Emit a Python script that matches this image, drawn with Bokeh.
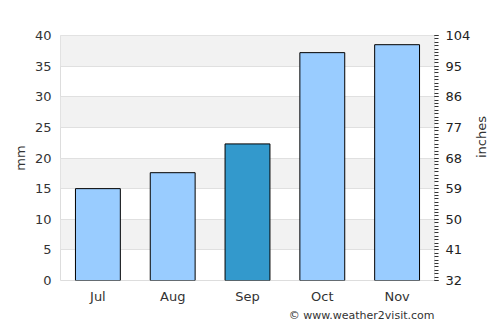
import math
from bokeh.plotting import figure
from bokeh.models import Range1d, LinearAxis, FixedTicker, Title
from bokeh.embed import file_html
from bokeh.resources import INLINE

months = ["Jul", "Aug", "Sep", "Oct", "Nov"]
rain_mm = [15.0, 17.6, 22.3, 37.2, 38.5]
colors = ["#99ccff", "#99ccff", "#3399cc", "#99ccff", "#99ccff"]
left_ticks = [0, 5, 10, 15, 20, 25, 30, 35, 40]
right_ticks = [32, 41, 50, 59, 68, 77, 86, 95, 104]

FONT = "DejaVu Sans"
TXT = "#333333"

p = figure(x_range=months, y_range=Range1d(0, 40), width=500, height=325,
           output_backend="svg", toolbar_location=None,
           min_border_left=60, min_border_right=66, min_border_top=35, min_border_bottom=45)
p.background_fill_color = "white"
p.outline_line_color = "#dddddd"

p.vbar(x=months, top=rain_mm, width=0.6, fill_color=colors, line_color="black", line_width=1)

p.xgrid.grid_line_color = None
p.ygrid.ticker = FixedTicker(ticks=left_ticks)
p.ygrid.grid_line_color = "#e0e0e0"
p.ygrid.band_fill_color = "#f2f2f2"
p.ygrid.band_fill_alpha = 1.0

ya = p.yaxis[0]
ya.ticker = FixedTicker(ticks=left_ticks)
ya.axis_line_color = None
ya.major_tick_line_color = None
ya.minor_tick_line_color = None
ya.major_tick_out = 0
ya.major_label_standoff = 9
ya.major_label_text_font = FONT
ya.major_label_text_font_size = "13px"
ya.major_label_text_color = TXT
ya.axis_label = "mm"
ya.axis_label_text_font = FONT
ya.axis_label_text_font_size = "13px"
ya.axis_label_text_font_style = "normal"
ya.axis_label_text_color = TXT
ya.axis_label_standoff = 4

xa = p.xaxis[0]
xa.axis_line_color = None
xa.major_tick_line_color = None
xa.major_tick_out = 0
xa.major_label_text_font = FONT
xa.major_label_text_font_size = "13px"
xa.major_label_text_color = TXT
xa.major_label_standoff = 8

p.extra_y_ranges = {"in": Range1d(32, 104)}
ra = LinearAxis(y_range_name="in", ticker=FixedTicker(ticks=right_ticks, minor_ticks=list(range(32, 105))))
ra.axis_line_color = None
ra.major_tick_line_color = "#333333"
ra.major_tick_in = 0
ra.major_tick_out = 4
ra.minor_tick_line_color = "#333333"
ra.minor_tick_in = 0
ra.minor_tick_out = 4
ra.major_label_text_font = FONT
ra.major_label_text_font_size = "13px"
ra.major_label_text_color = "#222222"
ra.major_label_standoff = 7
ra.axis_label = "inches"
ra.axis_label_orientation = math.pi / 2
ra.axis_label_text_font = FONT
ra.axis_label_text_font_size = "13px"
ra.axis_label_text_font_style = "normal"
ra.axis_label_text_color = TXT
ra.axis_label_standoff = 8
p.add_layout(ra, "right")

credit = Title(text="© www.weather2visit.com", align="right", text_font=FONT,
               text_font_size="11px", text_color=TXT, text_font_style="normal",
               standoff=0, offset=0)
p.add_layout(credit, "below")

open("out.html", "w").write(file_html(p, INLINE))
